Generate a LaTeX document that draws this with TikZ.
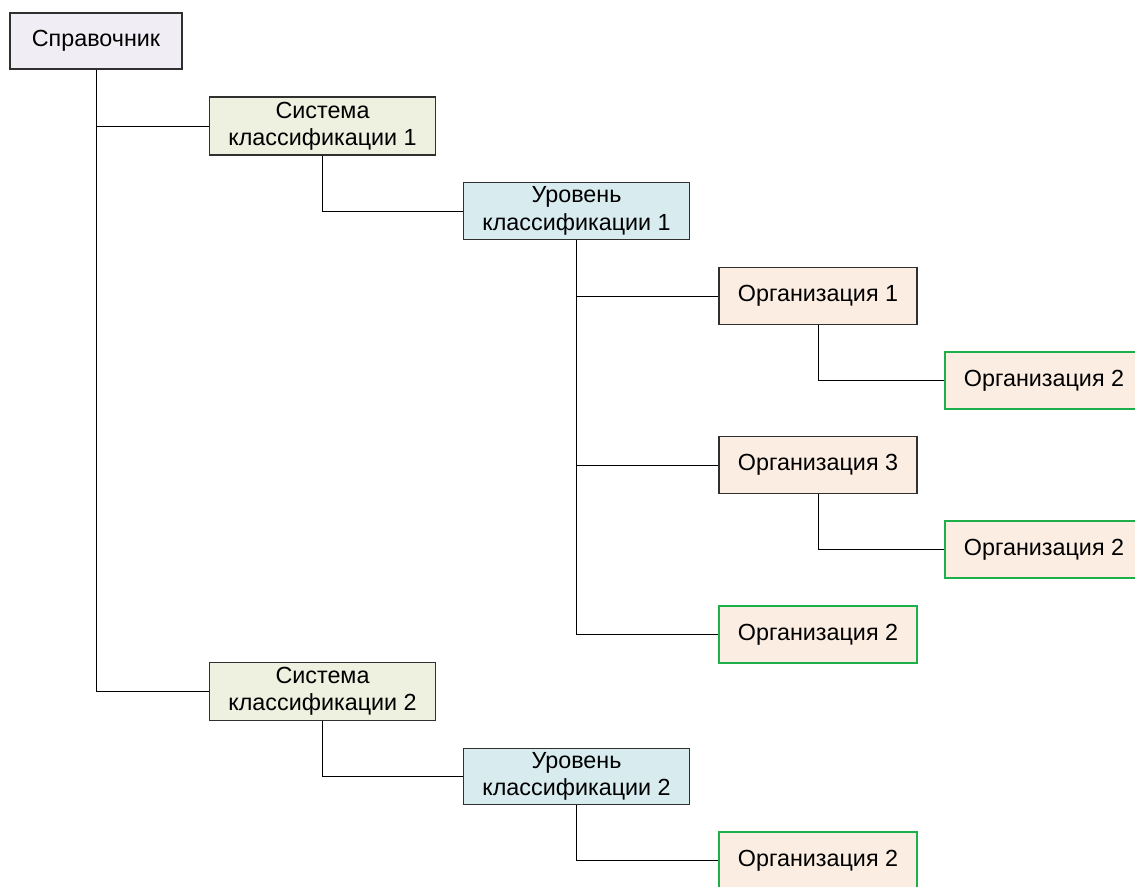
\documentclass[tikz,border=0pt]{standalone}
\usepackage{fontspec}
\setmainfont{Liberation Sans}
\usetikzlibrary{positioning}
\definecolor{refbg}{HTML}{F0EEF4}
\definecolor{sysbg}{HTML}{EEF0E0}
\definecolor{lvlbg}{HTML}{D8ECF0}
\definecolor{orgbg}{HTML}{FBEDE2}
\definecolor{lnk}{HTML}{1DB04A}
\definecolor{edge}{HTML}{303030}
\tikzset{
  box/.style    ={draw=edge, rectangle, align=center, inner sep=2pt, line width=0.8pt,
                  font=\fontsize{17.5}{20.5}\selectfont},
  boxref/.style ={box, fill=refbg, minimum width=129pt, minimum height=42pt},
  boxsys/.style ={box, fill=sysbg, minimum width=170pt, minimum height=43.5pt},
  boxlvl/.style ={box, fill=lvlbg, minimum width=170pt, minimum height=42.5pt},
  boxorg/.style ={box, fill=orgbg, minimum width=148.5pt, minimum height=42.5pt},
  boxlnk/.style ={boxorg, draw=lnk, line width=1.3pt},
  tie/.style    ={line width=0.6pt, draw=black},
}
\begin{document}
\begin{tikzpicture}[x=0.75pt,y=-0.75pt]
\useasboundingbox (0,0) rectangle (1135,886);
\clip (0,0) rectangle (1135,886);
\node[boxref] (ref) at (96,41) {Справочник};
\node[boxsys] (sys1) at (322.5,126) {Система\\классификации 1};
\node[boxlvl] (lvl1) at (576.5,211) {Уровень\\классификации 1};
\node[boxorg] (org1) at (818,296) {Организация 1};
\node[boxlnk] (org1a) at (1044,380.5) {Организация 2};
\node[boxorg] (org3) at (818,465) {Организация 3};
\node[boxlnk] (org3a) at (1044,549.5) {Организация 2};
\node[boxlnk] (org2) at (818,634.5) {Организация 2};
\node[boxsys] (sys2) at (322.5,691.5) {Система\\классификации 2};
\node[boxlvl] (lvl2) at (576.5,776.5) {Уровень\\классификации 2};
\node[boxlnk] (org2b) at (818,860.5) {Организация 2};
% tree links
\draw[tie] (ref.south) |- (sys1.west);
\draw[tie] (ref.south) |- (sys2.west);
\draw[tie] (sys1.south) |- (lvl1.west);
\draw[tie] (lvl1.south) |- (org1.west);
\draw[tie] (lvl1.south) |- (org3.west);
\draw[tie] (lvl1.south) |- (org2.west);
\draw[tie] (org1.south) |- (org1a.west);
\draw[tie] (org3.south) |- (org3a.west);
\draw[tie] (sys2.south) |- (lvl2.west);
\draw[tie] (lvl2.south) |- (org2b.west);
\end{tikzpicture}
\end{document}
